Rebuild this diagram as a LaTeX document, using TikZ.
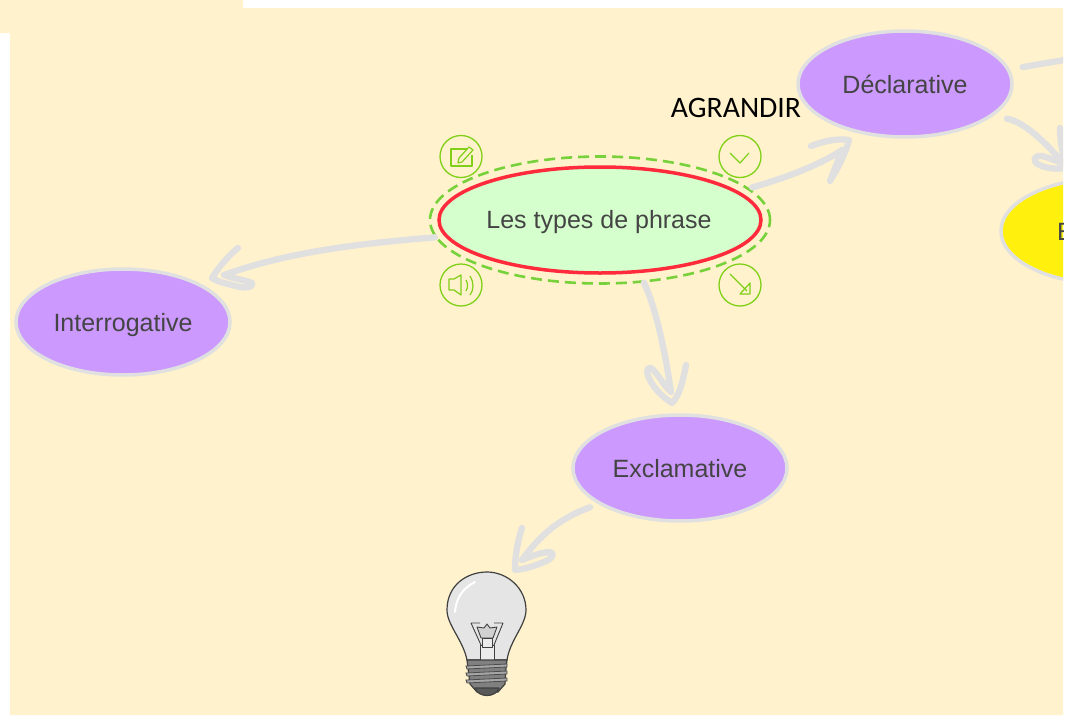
\documentclass[tikz,border=0pt]{standalone}
\usepackage{fontspec}
\setmainfont{Liberation Sans}
\newfontfamily\agr{Carlito}
\definecolor{cream}{HTML}{FFF2CC}
\definecolor{lilac}{HTML}{CC99FF}
\definecolor{edgegrey}{HTML}{E0E0E0}
\definecolor{mint}{HTML}{D5FFCC}
\definecolor{redline}{HTML}{FF2A3C}
\definecolor{iconG}{HTML}{7FD017}
\definecolor{dashG}{HTML}{77D13A}
\definecolor{ink}{HTML}{444444}
\definecolor{sun}{HTML}{FFF10D}
\newcommand{\lowered}[2]{\raisebox{-#1pt}[0pt][0pt]{#2}}
\tikzset{
  x=1pt,y=-1pt,
  topic/.style={ellipse,draw=edgegrey,line width=3.5pt,fill=lilac,minimum width=214pt,minimum height=106pt,inner sep=0pt,text=ink,font=\fontsize{25}{28}\selectfont},
  conn/.style={draw=edgegrey,line width=6.3pt,line cap=round,line join=round},
  iconring/.style={circle,draw=iconG,line width=1.3pt,minimum size=42pt,inner sep=0pt},
  glyph/.style={draw=iconG,line width=1.2pt,line join=round},
  bulbline/.style={draw=black!75,line width=1.2pt,line join=round},
}
\usetikzlibrary{shapes.geometric}
\begin{document}
\begin{tikzpicture}
\useasboundingbox (0,0) rectangle (1068,715);
\fill[cream] (0,0) -- (243,0) -- (243,8) -- (1063,8) -- (1063,715) -- (10,715) -- (10,33) -- (0,33) -- cycle;
\begin{scope}
\clip (0,0) rectangle (1063,715);
% nodes
\node[topic] (decl) at (905,84) {\lowered{9}{Déclarative}};
\node[topic] (inter) at (123,322) {\lowered{9}{Interrogative}};
\node[topic] (excl) at (680,468) {\lowered{9}{Exclamative}};
\node[topic,fill=sun] (yel) at (1108,231) {};
\node[anchor=west,inner sep=0pt,text=ink,font=\fontsize{25}{28}\selectfont] (yeltext) at (1057,232) {E};
\node[ellipse,draw=dashG,dashed,dash pattern=on 11pt off 6pt,line width=2.6pt,minimum width=340pt,minimum height=127pt,inner sep=0pt] (halo) at (600,220) {};
\node[ellipse,draw=redline,fill=mint,line width=3.5pt,minimum width=322pt,minimum height=106pt,inner sep=0pt,text=ink,font=\fontsize{25}{28}\selectfont] (main) at (600,220) {\lowered{8}{\hspace*{-2pt}Les types de phrase}};
% free ends
\coordinate (tipD) at (849,140);
\coordinate (tipI) at (212,278);
\coordinate (tipE) at (672,403);
\coordinate (tipB) at (515,570);
\coordinate (offA) at (1070,59);
\coordinate (tipY) at (1066,168);
% connectors
\draw[conn,shorten <=3pt] (halo.12) .. controls (785,178) and (820,165) .. (842,150) -- (830,181) .. controls (838,168) and (845,155) .. (tipD) .. controls (835,138) and (822,142) .. (811,146);
\draw[conn] (halo.186) .. controls (340,245) and (280,255) .. (224,275) .. controls (235,279) and (245,280) .. (252,283) .. controls (254,287) and (245,289) .. (236,286) .. controls (228,284) and (218,282) .. (tipI) .. controls (218,268) and (228,256) .. (238,248);
\draw[conn] (halo.305) .. controls (655,305) and (665,350) .. (671,392) .. controls (663,385) and (657,372) .. (651,368) .. controls (646,367) and (646,373) .. (650,380) .. controls (655,390) and (664,398) .. (tipE) .. controls (680,395) and (683,380) .. (686,365);
\draw[conn,shorten <=9pt] (excl.204) .. controls (560,518) and (540,535) .. (522,560) .. controls (532,556) and (542,552) .. (550,552) .. controls (555,553) and (553,558) .. (546,561) .. controls (535,566) and (525,569) .. (tipB) .. controls (515,555) and (518,540) .. (522,528);
\draw[conn,shorten <=13pt] (decl.8) -- (offA);
\draw[conn,shorten <=14pt] (decl.-20) .. controls (1025,122) and (1048,145) .. (1063,163);
\draw[conn] (1060,128) .. controls (1060,142) and (1063,155) .. (tipY) .. controls (1052,170) and (1042,167) .. (1036,163) .. controls (1032,158) and (1037,155) .. (1042,156) .. controls (1050,158) and (1058,162) .. (1066,164);
\end{scope}
% label
\node[font=\agr\fontsize{29.7}{32}\selectfont,text=black,inner sep=0pt] (agr) at (736,108) {\lowered{9}{AGRANDIR}};
% icons
\node[iconring] (i1) at (461,156.5) {};
\node[iconring] (i2) at (740,156.5) {};
\node[iconring] (i3) at (461,285) {};
\node[iconring] (i4) at (740,285) {};
% edit
\draw[glyph] (467,149) -- (451,149) -- (451,166) -- (472,166) -- (472,155);
\draw[glyph] (459,158) -- (469,147) -- (473,150) -- (462,162) -- (458,163) -- cycle;
% chevron
\draw[glyph] (730,153) -- (740,163) -- (749,153);
% speaker
\draw[glyph] (449,279) -- (454,279) -- (461,275) -- (461,295) -- (454,290) -- (449,290) -- cycle;
\draw[glyph] (466,280) .. controls (468,283) and (468,288) .. (466,291);
\draw[glyph] (470,276) .. controls (474,282) and (474,290) .. (470,295);
% expand
\draw[glyph] (730,274) -- (747,291);
\draw[glyph] (750,283) -- (750,294) -- (740,294) -- cycle;
% bulb
\coordinate (bcap) at (487,572);
\draw[bulbline,fill=black!10] (467,660) .. controls (463,640) and (447,625) .. (447,610) .. controls (447,585) and (467,572) .. (bcap) .. controls (507,572) and (526,588) .. (526,610) .. controls (526,625) and (510,640) .. (507,660) -- cycle;
\draw[white,line width=2pt,line cap=round] (455,612) .. controls (456,598) and (463,588) .. (475,582);
\draw[bulbline,line width=.9pt,fill=black!8] (480,645) -- (480,660) -- (494,660) -- (494,645) -- cycle;
\draw[bulbline,line width=.9pt] (481,645) -- (471,623) (494,645) -- (503,623) (471,623) -- (480,623) (503,623) -- (494,623);
\draw[bulbline,line width=.9pt,fill=black!18] (481,638) -- (477,627) -- (484,628) -- (487,624) -- (490,628) -- (497,627) -- (493,638) -- cycle;
\draw[bulbline,line width=.9pt,fill=black!8] (482,638) rectangle (492,647);
\draw[bulbline,fill=black!50] (467,660) -- (507,660) -- (506,668) -- (505,684) -- (498,692) -- (477,692) -- (470,684) -- (468,668) -- cycle;
\draw[bulbline,fill=black!65] (475,688) .. controls (478,698) and (496,698) .. (499,688) -- cycle;
\foreach \yy in {666,673,680}{\draw[draw=black!70,fill=black!35,line width=.8pt] (466,\yy) -- (507,\yy-2) -- (507,\yy+1) -- (467,\yy+3) -- cycle;}
\end{tikzpicture}
\end{document}
